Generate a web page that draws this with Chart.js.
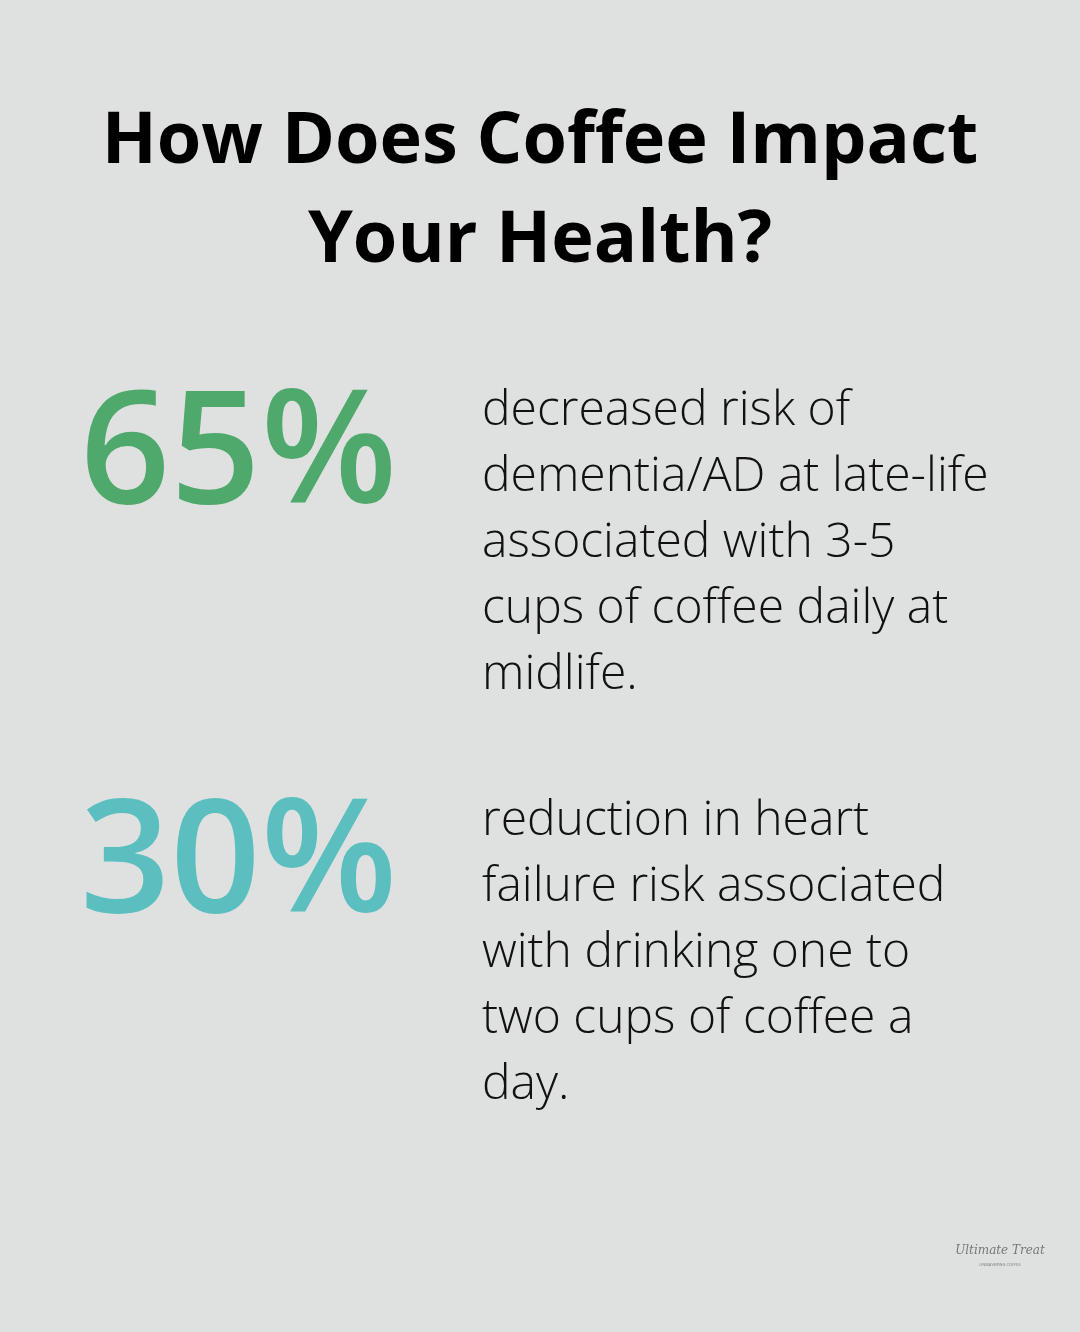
<!DOCTYPE html>
<html>
<head>
<meta charset="utf-8">
<script src="https://cdn.jsdelivr.net/npm/chart.js@4"></script>
<style>
  html, body { margin: 0; padding: 0; background: #dfe1e0; }
  #wrap { width: 1080px; height: 1332px; position: relative; }
</style>
</head>
<body>
<div id="wrap"><canvas id="chart" width="1080" height="1332"></canvas></div>
<script>
// title and stat blocks
var titleLines = ["How Does Coffee Impact", "Your Health?"];
var statValues = ["65%", "30%"];
var statColors = ["#4fa96d", "#5bbebf"];
var statTexts = [
    ["decreased risk of", "dementia/AD at late-life", "associated with 3-5", "cups of coffee daily at", "midlife."],
    ["reduction in heart", "failure risk associated", "with drinking one to", "two cups of coffee a", "day."]
];

var infoPlugin = {
    id: "info",
    afterDraw: function (chart) {
        var ctx = chart.ctx;
        ctx.save();
        ctx.fillStyle = "#000";
        ctx.textAlign = "center";
        ctx.textBaseline = "alphabetic";
        ctx.font = "bold 72px 'Open Sans'";
        ctx.fillText(titleLines[0], 540, 163);
        ctx.fillText(titleLines[1], 540, 262);

        var tops = [503, 912];
        var descTops = [425, 835];
        for (var i = 0; i < statValues.length; i++) {
            ctx.textAlign = "left";
            ctx.fillStyle = statColors[i];
            ctx.font = "600 158px 'Open Sans'";
            ctx.fillText(statValues[i], 80, tops[i]);
            ctx.fillStyle = "#111";
            ctx.font = "300 48px 'Open Sans'";
            statTexts[i].forEach(function (line, j) {
                ctx.fillText(line, 482, descTops[i] + j * 66);
            });
        }
        // small logo text
        ctx.textAlign = "center";
        ctx.fillStyle = "#777";
        ctx.font = "italic 12px 'DejaVu Serif'";
        ctx.fillText("Ultimate Treat", 1000, 1254);
        ctx.font = "4px 'Open Sans'";
        ctx.fillText("UNWAVERING COFFEE", 1000, 1266);
        ctx.restore();
    }
};

var chart = new Chart(document.getElementById("chart"), {
    type: "bar",
    data: { labels: [], datasets: [] },
    options: {
        responsive: false,
        animation: false,
        plugins: { legend: { display: false }, tooltip: { enabled: false } },
        scales: { x: { display: false }, y: { display: false } }
    },
    plugins: [infoPlugin]
});
</script>
</body>
</html>
